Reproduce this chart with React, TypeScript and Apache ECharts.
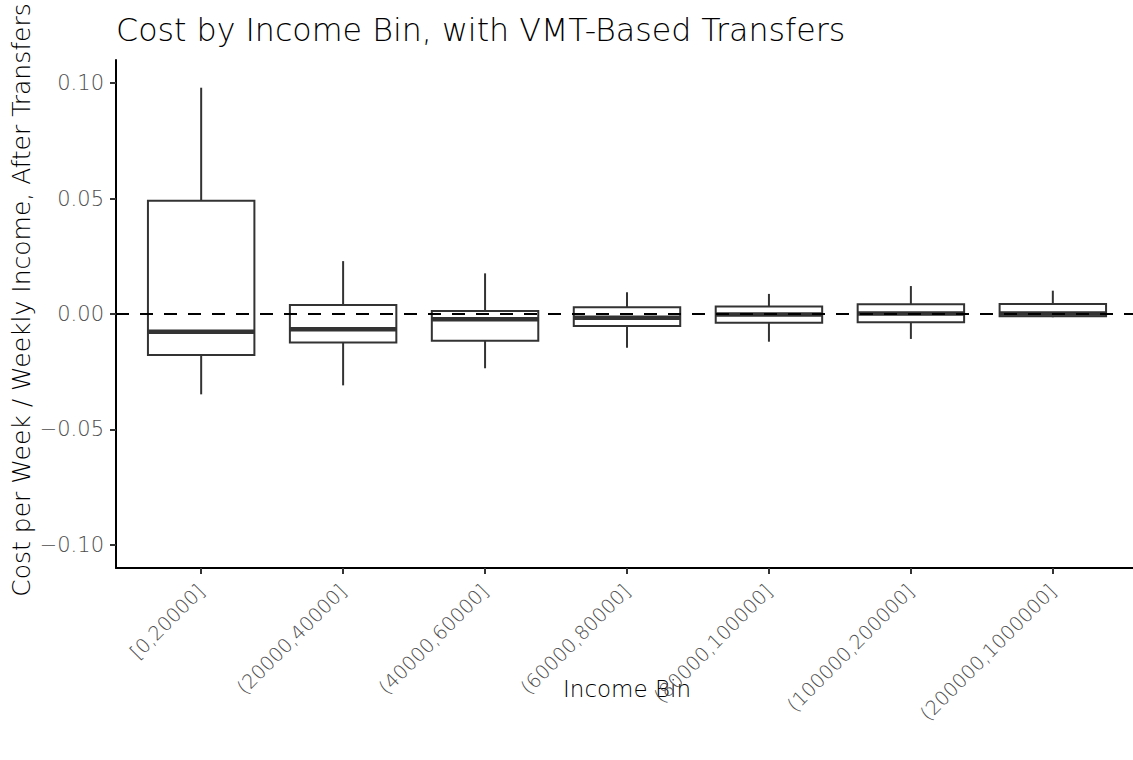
import React, { useEffect, useRef } from "react";
import * as echarts from "echarts";

const categories = [
  "[0,20000]",
  "(20000,40000]",
  "(40000,60000]",
  "(60000,80000]",
  "(80000,100000]",
  "(100000,200000]",
  "(200000,1000000]",
];
// [low whisker, Q1, median, Q3, high whisker]
const lowWhisker = [-0.0348, -0.0309, -0.0235, -0.0146, -0.012, -0.0108, -0.0014];
const q1 = [-0.0178, -0.0123, -0.0116, -0.0052, -0.0038, -0.0036, -0.001];
const median = [-0.0077, -0.0066, -0.0023, -0.0016, -0.0002, 0.0002, 0.0002];
const q3 = [0.049, 0.0039, 0.0013, 0.0029, 0.0032, 0.0042, 0.0043];
const highWhisker = [0.098, 0.0229, 0.0176, 0.0094, 0.0087, 0.0121, 0.0101];
const yTicks = [-0.1, -0.05, 0, 0.05, 0.1];
const xTicks = [0, 1, 2, 3, 4, 5, 6];

const FONT = "'DejaVu Sans', sans-serif";

export default function App() {
  const ref = useRef<HTMLDivElement>(null);
  useEffect(() => {
    document.body.style.margin = "0";
    const chart = echarts.init(ref.current!, null, { renderer: "svg" });
    const boxData = categories.map((_, i) => [i, lowWhisker[i], q1[i], median[i], q3[i], highWhisker[i]]);
    const option: any = {
      animation: false,
      backgroundColor: "#ffffff",
      title: {
        text: "Cost by Income Bin, with VMT-Based Transfers",
        left: 111,
        top: 9,
        textStyle: { fontFamily: FONT, fontSize: 31.7, fontWeight: 300, color: "#000" },
      },
      grid: {
        left: 116,
        top: 60,
        width: 1022,
        height: 508,
        containLabel: false,
        outerBoundsMode: "none",
      },
      xAxis: {
        type: "value",
        min: -0.6,
        max: 6.6,
        name: "Income Bin",
        nameLocation: "middle",
        nameGap: 109,
        nameMoveOverlap: false,
        nameTextStyle: { fontFamily: FONT, fontSize: 23, fontWeight: 300, color: "#000" },
        splitLine: { show: false },
        axisLine: { show: true, onZero: false, lineStyle: { color: "#000", width: 2 } },
        axisTick: { show: true, customValues: xTicks, length: 6, lineStyle: { color: "#333", width: 2 } },
        axisLabel: {
          customValues: xTicks,
          rotate: 45,
          margin: 20,
          fontFamily: FONT,
          fontSize: 19.5,
          fontWeight: 300,
          color: "#4d4d4d",
          formatter: (v: number) => categories[Math.round(v)] ?? "",
        },
      },
      yAxis: {
        type: "value",
        min: -0.11,
        max: 0.11,
        name: "Cost per Week / Weekly Income, After Transfers",
        nameLocation: "middle",
        nameRotate: 90,
        nameGap: 82,
        nameMoveOverlap: false,
        nameTextStyle: {
          fontFamily: FONT,
          fontSize: 25,
          fontWeight: 300,
          color: "#000",
          padding: [0, 0, 0, 28],
        },
        splitLine: { show: false },
        axisLine: { show: true, onZero: false, lineStyle: { color: "#000", width: 2 } },
        axisTick: { show: true, customValues: yTicks, length: 6, lineStyle: { color: "#333", width: 2 } },
        axisLabel: {
          customValues: yTicks,
          margin: 12,
          fontFamily: FONT,
          fontSize: 21,
          fontWeight: 300,
          color: "#4d4d4d",
          formatter: (v: number) => v.toFixed(2).replace("-", "\u2212"),
        },
      },
      series: [
        {
          type: "custom",
          data: boxData,
          encode: { x: 0, y: [1, 2, 3, 4, 5] },
          renderItem: (params: any, api: any) => {
            const x = api.value(0);
            const lo = api.coord([x, api.value(1)]);
            const b = api.coord([x, api.value(2)]);
            const m = api.coord([x, api.value(3)]);
            const t = api.coord([x, api.value(4)]);
            const hi = api.coord([x, api.value(5)]);
            const hw = api.size([0.75, 0])[0] / 2;
            const stroke = { stroke: "#333333", lineWidth: 2, fill: null };
            return {
              type: "group",
              children: [
                { type: "line", shape: { x1: lo[0], y1: lo[1], x2: b[0], y2: b[1] }, style: stroke },
                { type: "line", shape: { x1: t[0], y1: t[1], x2: hi[0], y2: hi[1] }, style: stroke },
                {
                  type: "rect",
                  shape: { x: t[0] - hw, y: t[1], width: hw * 2, height: b[1] - t[1] },
                  style: { stroke: "#333333", lineWidth: 2, fill: "#ffffff" },
                },
                {
                  type: "line",
                  shape: { x1: m[0] - hw, y1: m[1], x2: m[0] + hw, y2: m[1] },
                  style: { stroke: "#333333", lineWidth: 4.5 },
                },
              ],
            };
          },
          z: 2,
        },
        {
          type: "line",
          data: [
            [-0.6, 0],
            [6.6, 0],
          ],
          symbol: "none",
          lineStyle: { color: "#000", width: 2, type: [13, 11] },
          z: 5,
        },
      ],
    };
    chart.setOption(option);
    return () => chart.dispose();
  }, []);
  return <div ref={ref} style={{ width: 1133, height: 760 }} />;
}
